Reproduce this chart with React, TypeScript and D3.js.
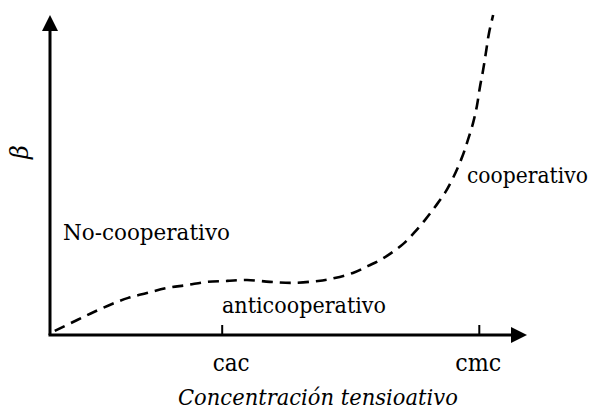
import React, { useRef, useEffect } from "react";
import * as d3 from "d3";

// curve (concentration 0-100, beta 0-100)
const concentration = [1.0, 5.7, 9.2, 13.0, 16.4, 20.3, 24.5, 28.7, 32.9, 37.1, 41.3, 46.1, 50.9, 56.2, 59.7, 63.5, 66.7, 69.2, 71.5, 74.0, 76.3, 78.6, 80.7, 82.8, 84.5, 86.4, 87.6, 88.7, 89.5, 90.1, 90.8, 91.4, 92.0, 92.9];
const beta = [1.3, 4.7, 7.2, 9.7, 11.6, 13.1, 14.7, 15.6, 16.6, 16.9, 17.2, 16.6, 16.3, 16.9, 17.8, 19.4, 21.6, 23.4, 25.6, 28.4, 31.9, 35.9, 40.0, 44.4, 49.1, 55.6, 60.9, 66.3, 71.6, 77.2, 82.8, 88.4, 94.1, 100];

const tickNames = ["cac", "cmc"];
const tickValues = [36.1, 90.0];

const App = () => {
	const svgRef = useRef(null);
	const width = 595;
	const height = 410;

	useEffect(() => {
		const svg = d3.select(svgRef.current);
		svg.selectChildren().remove();

		const x = d3.scaleLinear().domain([0, 100]).range([50, 527]);
		const y = d3.scaleLinear().domain([0, 100]).range([335, 15]);
		const font = "'DejaVu Serif', 'Liberation Serif', serif";

		// squeeze a text horizontally so it spans `len` px, starting at (tx, ty)
		const fitText = (sel, tx, ty, len) => {
			const natural = sel.node().getComputedTextLength() || len;
			sel.attr("transform", `translate(${tx},${ty}) scale(${len / natural},1)`);
		};

		// axes
		svg.append("line")
			.attr("x1", x(0)).attr("y1", y(0))
			.attr("x2", x(0)).attr("y2", y(100) + 12)
			.attr("stroke", "#000").attr("stroke-width", 3);
		svg.append("line")
			.attr("x1", x(0) - 1.5).attr("y1", y(0))
			.attr("x2", x(100) - 12).attr("y2", y(0))
			.attr("stroke", "#000").attr("stroke-width", 3);

		// arrow heads
		svg.append("path")
			.attr("d", `M${x(0)},${y(100)} L${x(0) - 8},${y(100) + 16} L${x(0) + 8},${y(100) + 16} Z`)
			.attr("fill", "#000");
		svg.append("path")
			.attr("d", `M${x(100)},${y(0)} L${x(100) - 16},${y(0) - 8} L${x(100) - 16},${y(0) + 8} Z`)
			.attr("fill", "#000");

		// ticks
		tickValues.forEach((v, i) => {
			svg.append("line")
				.attr("x1", x(v)).attr("x2", x(v))
				.attr("y1", y(0)).attr("y2", y(0) - 10)
				.attr("stroke", "#000").attr("stroke-width", 2);
			const len = i === 0 ? 37 : 46;
			const t = svg.append("text")
				.style("font-family", font)
				.style("font-size", "24px")
				.text(tickNames[i]);
			fitText(t, x(v) + (i === 0 ? 9 : -1) - len / 2, 371, len);
		});

		// dashed curve
		const pts = concentration.map((c, i) => [c, beta[i]]);
		svg.append("path")
			.datum(pts)
			.attr("fill", "none")
			.attr("stroke", "#000")
			.attr("stroke-width", 2.6)
			.attr("stroke-dasharray", "11,7")
			.attr("d", d3.line()
				.x(d => x(d[0]))
				.y(d => y(d[1]))
				.curve(d3.curveCatmullRom));

		// labels
		const labels = [
			{ t: "No-cooperativo", x: 63, y: 240, len: 167 },
			{ t: "anticooperativo", x: 222, y: 313, len: 164 },
			{ t: "cooperativo", x: 467, y: 183, len: 121 },
		];
		labels.forEach(l => {
			const t = svg.append("text")
				.style("font-family", font)
				.style("font-size", "22px")
				.text(l.t);
			fitText(t, l.x, l.y, l.len);
		});

		const xt = svg.append("text")
			.style("font-family", font)
			.style("font-style", "italic")
			.style("font-size", "23px")
			.text("Concentración tensioativo");
		fitText(xt, 178, 405, 280);

		svg.append("text")
			.attr("transform", "translate(28, 152) rotate(-90)")
			.attr("text-anchor", "middle")
			.style("font-family", font)
			.style("font-style", "italic")
			.style("font-size", "24px")
			.text("β");
	});

	return (
		<div style={{ position: "absolute", left: 0, top: 0 }}>
			<svg ref={svgRef} width={width} height={height} style={{ display: "block", background: "#fff" }}>
			</svg>
		</div>
	);
};

export default App;
